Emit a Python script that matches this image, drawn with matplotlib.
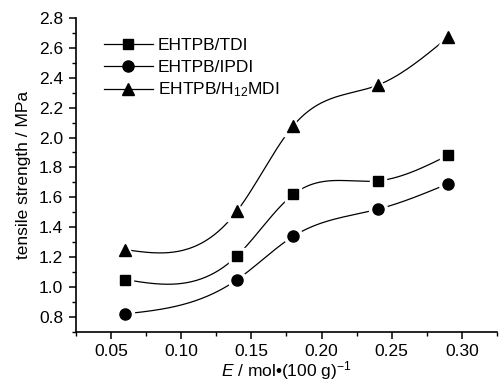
import numpy as np
import matplotlib
matplotlib.use("Agg")
import matplotlib.pyplot as plt
from matplotlib.ticker import MultipleLocator

plt.rcParams['font.family'] = ['Liberation Sans Narrow', 'Liberation Sans', 'DejaVu Sans']
plt.rcParams['mathtext.fontset'] = 'custom'
plt.rcParams['mathtext.rm'] = 'Liberation Sans'
plt.rcParams['mathtext.it'] = 'Liberation Sans:italic'

# data
E = [0.06, 0.14, 0.18, 0.24, 0.29]
tdi = [1.05, 1.21, 1.62, 1.71, 1.88]
ipdi = [0.82, 1.05, 1.34, 1.52, 1.69]
h12mdi = [1.25, 1.51, 2.08, 2.35, 2.67]
labels = ["EHTPB/TDI", "EHTPB/IPDI", "EHTPB/H$_{12}$MDI"]
markers = ["s", "o", "^"]


def spline(x, y, n=200):
    # natural cubic spline through the points
    x = np.asarray(x, float)
    y = np.asarray(y, float)
    k = len(x)
    h = np.diff(x)
    A = np.zeros((k, k))
    b = np.zeros(k)
    A[0, 0] = 1
    A[-1, -1] = 1
    for i in range(1, k - 1):
        A[i, i - 1] = h[i - 1]
        A[i, i] = 2 * (h[i - 1] + h[i])
        A[i, i + 1] = h[i]
        b[i] = 6 * ((y[i + 1] - y[i]) / h[i] - (y[i] - y[i - 1]) / h[i - 1])
    M = np.linalg.solve(A, b)
    xs = np.linspace(x[0], x[-1], n)
    idx = np.clip(np.searchsorted(x, xs) - 1, 0, k - 2)
    x0, x1 = x[idx], x[idx + 1]
    hh = x1 - x0
    t0 = x1 - xs
    t1 = xs - x0
    ys = (M[idx] * t0 ** 3 + M[idx + 1] * t1 ** 3) / (6 * hh) \
        + (y[idx] / hh - M[idx] * hh / 6) * t0 \
        + (y[idx + 1] / hh - M[idx + 1] * hh / 6) * t1
    return xs, ys


fig = plt.figure(figsize=(4.99, 3.81), dpi=100)
ax = fig.add_axes([0.152, 0.129, 0.844, 0.824])

sizes = {"s": 7, "o": 8, "^": 9}
for ys, lab, m in zip([tdi, ipdi, h12mdi], labels, markers):
    xs, yy = spline(E, ys)
    ax.plot(xs, yy, color="black", lw=0.9, zorder=1)
    ax.plot(E, ys, ls="none", marker=m, ms=sizes[m] + 5, color="white", zorder=2)
    ax.plot(E, ys, ls="none", marker=m, ms=sizes[m], color="black", zorder=3)
    ax.plot([], [], color="black", lw=0.9, marker=m, ms=sizes[m], label=lab)

ax.set_xlim(0.025, 0.325)
ax.set_ylim(0.7, 2.8)
ax.xaxis.set_minor_locator(MultipleLocator(0.025))
ax.yaxis.set_minor_locator(MultipleLocator(0.1))
ax.set_xticks([0.05, 0.10, 0.15, 0.20, 0.25, 0.30])
ax.set_xticklabels(["0.05", "0.10", "0.15", "0.20", "0.25", "0.30"])
ax.set_yticks(np.arange(0.8, 2.81, 0.2))
ax.set_yticklabels(["%.1f" % v for v in np.arange(0.8, 2.81, 0.2)])

for s in ["top", "right"]:
    ax.spines[s].set_visible(False)
for s in ["left", "bottom"]:
    ax.spines[s].set_linewidth(1.2)
ax.tick_params(which="major", direction="out", length=5, width=1.1, labelsize=12.5, pad=4)
ax.tick_params(which="minor", direction="out", length=3, width=1.0)

ax.set_xlabel("$\\it{E}$ / mol\u2022(100 g)$^{-1}$", fontsize=12.5, labelpad=0)
ax.set_ylabel("tensile strength / MPa", fontsize=12.5, labelpad=6)

ax.legend(loc="upper left", bbox_to_anchor=(0.03, 0.985), frameon=False,
          fontsize=12.5, handlelength=2.8, handletextpad=0.3, labelspacing=0.35)

fig.savefig("out.png", dpi=100)
